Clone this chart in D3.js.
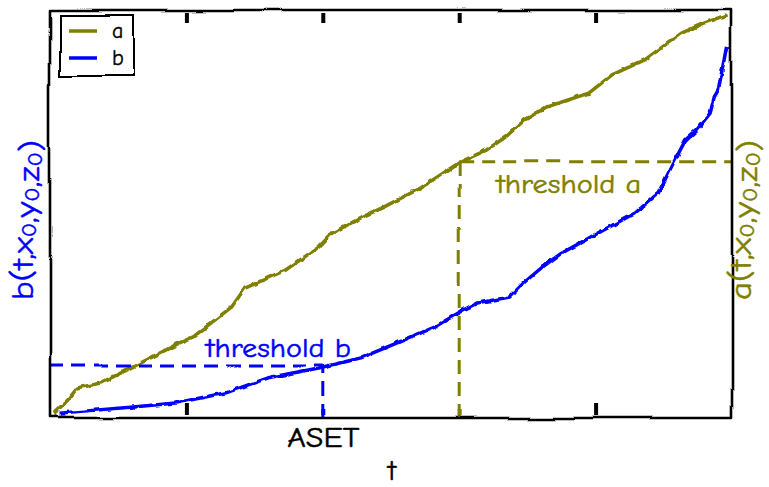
<!DOCTYPE html>
<html><head><meta charset="utf-8">
<script src="https://cdn.jsdelivr.net/npm/d3@7"></script>
<style>
html,body{margin:0;padding:0;background:#fff;}
text{font-family:"Humor Sans","Comic Sans MS","Comic Neue","Open Sans",sans-serif;}
</style></head>
<body><svg id="c" width="769" height="487"></svg>
<script>
// ---- data ----
const tA = [0.03,0.13,0.20,0.37,0.61,0.95,1.05,1.33,1.43,1.73,1.97,2.07,2.32,2.45,2.72,3.01,3.20,3.34,3.48,3.64,3.95,4.12,4.36,4.49,4.63,4.80,4.96];
const aVals = [0.12,0.44,0.74,0.86,1.26,1.85,2.00,2.73,3.20,3.65,4.21,4.56,5.00,5.20,5.67,6.31,6.60,6.92,7.34,7.66,8.00,8.45,8.82,9.14,9.48,9.73,9.93];
const tB = [0.07,0.61,0.92,1.29,1.60,1.97,2.28,2.51,2.82,3.03,3.13,3.37,3.48,3.61,3.75,4.02,4.29,4.46,4.57,4.66,4.74,4.84,4.87,4.90,4.96];
const bVals = [0.12,0.27,0.37,0.62,0.99,1.23,1.48,1.80,2.24,2.66,2.83,2.98,3.35,3.72,4.06,4.56,5.05,5.54,6.28,6.85,7.09,7.51,7.91,8.08,9.14];
const tickValues = [0,1,2,3,4,5];
const tickLabels = ["","","ASET","","",""];
const threshA = {t:3.0, v:6.31, label:"threshold a"};
const threshB = {t:2.0, v:1.28, label:"threshold b"};
const seriesNames = ["a","b"];
const colors = {a:"#808000", b:"#0000ff"};

const svg = d3.select("#c");
const W=769,H=487;
const x = d3.scaleLinear().domain([0,5]).range([50,732]);
const yB = d3.scaleLinear().domain([0,10]).range([418,12]);
const yA = d3.scaleLinear().domain([0,10]).range([418,12]);

// filters for the hand-drawn look
const defs = svg.append("defs");
function mkFilter(id,freq,scale,seed){
  const f = defs.append("filter").attr("id",id).attr("filterUnits","userSpaceOnUse")
    .attr("x",0).attr("y",0).attr("width",W).attr("height",H);
  f.append("feTurbulence").attr("type","fractalNoise").attr("baseFrequency",freq)
    .attr("numOctaves",1).attr("seed",seed).attr("result","n");
  f.append("feDisplacementMap").attr("in","SourceGraphic").attr("in2","n")
    .attr("scale",scale).attr("xChannelSelector","R").attr("yChannelSelector","G");
}
mkFilter("wob",0.012,8,3);
mkFilter("jit",0.15,4,5);
mkFilter("wob2",0.012,5,8);

const line = (ys)=>d3.line().x(d=>x(d[0])).y(d=>ys(d[1]));

// data lines
const dataA = tA.map((t,i)=>[t,aVals[i]]);
const dataB = tB.map((t,i)=>[t,bVals[i]]);
svg.append("path").datum(dataA).attr("d",line(yA)).attr("fill","none")
  .attr("stroke",colors.a).attr("stroke-width",3.5).attr("stroke-linejoin","round").attr("filter","url(#jit)");
svg.append("path").datum(dataB).attr("d",line(yB)).attr("fill","none")
  .attr("stroke",colors.b).attr("stroke-width",3.5).attr("stroke-linejoin","round").attr("filter","url(#jit)");

// threshold lines
const gT = svg.append("g").attr("filter","url(#wob2)").attr("fill","none").attr("stroke-width",3).attr("stroke-dasharray","14,8");
gT.append("path").datum([[threshB.t,0],[threshB.t,threshB.v]]).attr("d",line(yB)).attr("stroke",colors.b);
gT.append("path").datum([[0,threshB.v],[threshB.t,threshB.v]]).attr("d",line(yB)).attr("stroke",colors.b);
gT.append("path").datum([[threshA.t,0],[threshA.t,threshA.v]]).attr("d",line(yA)).attr("stroke",colors.a);
gT.append("path").datum([[threshA.t,threshA.v],[5,threshA.v]]).attr("d",line(yA)).attr("stroke",colors.a);

svg.append("text").attr("x",x(threshB.t)-117).attr("y",yB(threshB.v)-9)
  .attr("font-size",27).attr("fill",colors.b).attr("stroke",colors.b).attr("stroke-width",0.5)
  .attr("textLength",145).attr("lengthAdjust","spacingAndGlyphs").text(threshB.label);
svg.append("text").attr("x",x(threshA.t)+37).attr("y",yA(threshA.v)+31)
  .attr("font-size",27).attr("fill",colors.a).attr("stroke",colors.a).attr("stroke-width",0.5)
  .attr("textLength",145).attr("lengthAdjust","spacingAndGlyphs").text(threshA.label);

// frame
const fr = svg.append("g").attr("filter","url(#wob)");
fr.append("path").attr("d",`M${x(0)},${yA(10)-2}L${x(5)},${yA(10)-2}L${x(5)},${yA(0)}L${x(0)},${yA(0)}Z`)
  .attr("fill","none").attr("stroke","#000").attr("stroke-width",2.6).attr("stroke-linejoin","round");

// ticks
const axB = d3.axisBottom(x).tickValues(tickValues).tickSizeInner(-12).tickSizeOuter(0).tickPadding(11)
  .tickFormat((d,i)=>tickLabels[i]);
const gB = svg.append("g").attr("transform",`translate(0,${yA(0)-3})`).call(axB);
const axT = d3.axisTop(x).tickValues(tickValues.slice(1,5)).tickSizeInner(-10).tickSizeOuter(0).tickFormat("");
const gTop = svg.append("g").attr("transform",`translate(0,${yA(10)+1})`).call(axT);
[gB,gTop].forEach(g=>{
  g.select(".domain").remove();
  g.selectAll(".tick line").attr("stroke","#000").attr("stroke-width",4);
});
gB.selectAll(".tick").filter(d=>d===0||d===5).select("line").remove();
gB.selectAll(".tick text").attr("font-size",29).attr("fill","#000").attr("stroke","#000").attr("stroke-width",0.5).attr("font-family",null)
  .filter(d=>d===threshB.t).attr("textLength",72).attr("lengthAdjust","spacingAndGlyphs").attr("x",-36).attr("text-anchor","start");
gB.selectAll(".tick").filter(d=>d===threshB.t).select("line").attr("stroke",colors.b).attr("y2",-6);
gB.selectAll(".tick").filter(d=>d===threshA.t).select("line").attr("stroke",colors.a).attr("y2",-6);

// axis labels
function subLabel(sel,parts){
  parts.forEach(p=>{
    if(p.sub){ sel.append("tspan").attr("font-size","0.68em").attr("dy","0.15em").text(p.t);
               sel.append("tspan").attr("dy","-0.102em").text(""); }
    else sel.append("tspan").text(p.t);
  });
}
const lblParts = n=>[{t:n+"(t,x"},{t:"0",sub:true},{t:",y"},{t:"0",sub:true},{t:",z"},{t:"0",sub:true},{t:")"}];
const lb = svg.append("text").attr("transform","translate(33,300) rotate(-90)")
  .attr("font-size",30).attr("fill",colors.b).attr("stroke",colors.b).attr("stroke-width",0.4)
  .attr("textLength",160).attr("lengthAdjust","spacingAndGlyphs");
subLabel(lb,lblParts("b"));
const la = svg.append("text").attr("transform","translate(751,300) rotate(-90)")
  .attr("font-size",30).attr("fill",colors.a).attr("stroke",colors.a).attr("stroke-width",0.4)
  .attr("textLength",160).attr("lengthAdjust","spacingAndGlyphs");
subLabel(la,lblParts("a"));
svg.append("text").attr("x",392).attr("y",480).attr("text-anchor","middle").attr("font-size",28)
  .attr("fill","#000").attr("stroke","#000").attr("stroke-width",0.5).text("t");

// legend
const lg = svg.append("g");
lg.append("path").attr("d","M60,15L133,15L133,76L60,76Z").attr("fill","#fff").attr("stroke","#000").attr("stroke-width",2).attr("filter","url(#wob)");
seriesNames.forEach((n,i)=>{
  const yy = 31 + i*27;
  lg.append("line").attr("x1",69).attr("x2",97).attr("y1",yy).attr("y2",yy).attr("stroke",colors[n]).attr("stroke-width",3.5);
  lg.append("text").attr("x",112).attr("y",yy+7).attr("font-size",22).attr("fill","#000").attr("stroke","#000").attr("stroke-width",0.4).text(n);
});
</script></body></html>
